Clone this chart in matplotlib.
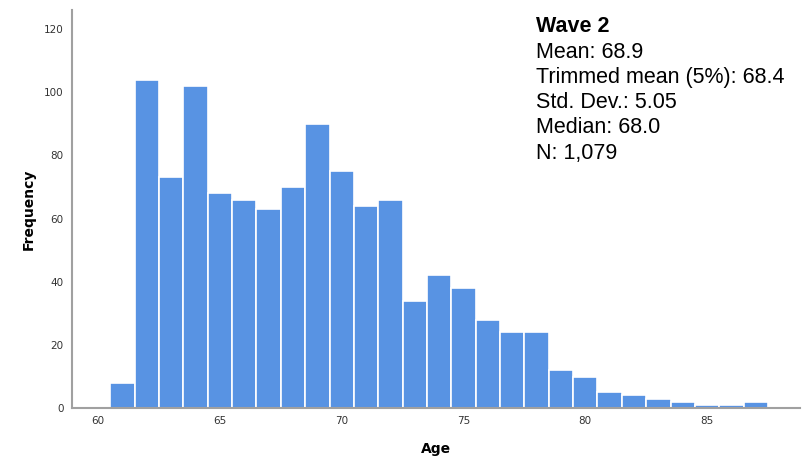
import matplotlib
matplotlib.use("Agg")
import matplotlib.pyplot as plt

# age bins (bin centres, width 1 year) and counts
ages = [61, 62, 63, 64, 65, 66, 67, 68, 69, 70, 71, 72, 73, 74,
        75, 76, 77, 78, 79, 80, 81, 82, 83, 84, 85, 86, 87]
counts = [8, 104, 73, 102, 68, 66, 63, 70, 90, 75, 64, 66, 34, 42,
          38, 28, 24, 24, 12, 10, 5, 4, 3, 2, 1, 1, 2]
x_ticks = [60, 65, 70, 75, 80, 85]
y_ticks = [0, 20, 40, 60, 80, 100, 120]
stats_title = "Wave 2"
stats_lines = ["Mean: 68.9", "Trimmed mean (5%): 68.4", "Std. Dev.: 5.05",
               "Median: 68.0", "N: 1,079"]

fig = plt.figure(figsize=(8.04, 4.57), dpi=100)
ax = fig.add_axes([0.0896, 0.107, 0.905, 0.871])

ax.bar(ages, counts, width=1.0, color="#5893e3", edgecolor="white", linewidth=1.2)

ax.set_xlim(58.93, 88.8)
ax.set_ylim(0, 126)
ax.set_xticks(x_ticks)
ax.set_yticks(y_ticks)
ax.tick_params(length=0, labelsize=7.5, colors="#333333", pad=6)

for side in ["top", "right"]:
    ax.spines[side].set_visible(False)
for side in ["left", "bottom"]:
    ax.spines[side].set_color("#a0a0a0")
    ax.spines[side].set_linewidth(1.5)

ax.set_xlabel("Age", fontsize=10, fontweight="bold", labelpad=11)
ax.set_ylabel("Frequency", fontsize=10, fontweight="bold", labelpad=6)

# stats box, one text per line (25 px apart)
x0 = 536 / 804
y0 = 27
step = 25.2
fig.text(x0, 1 - y0 / 457, stats_title, fontsize=15.5, fontweight="bold",
         family="Liberation Sans", va="center")
for i, line in enumerate(stats_lines):
    fig.text(x0, 1 - (y0 + step * (i + 1)) / 457, line, fontsize=15.5,
             family="Liberation Sans", va="center")

fig.savefig("out.png", dpi=100)
